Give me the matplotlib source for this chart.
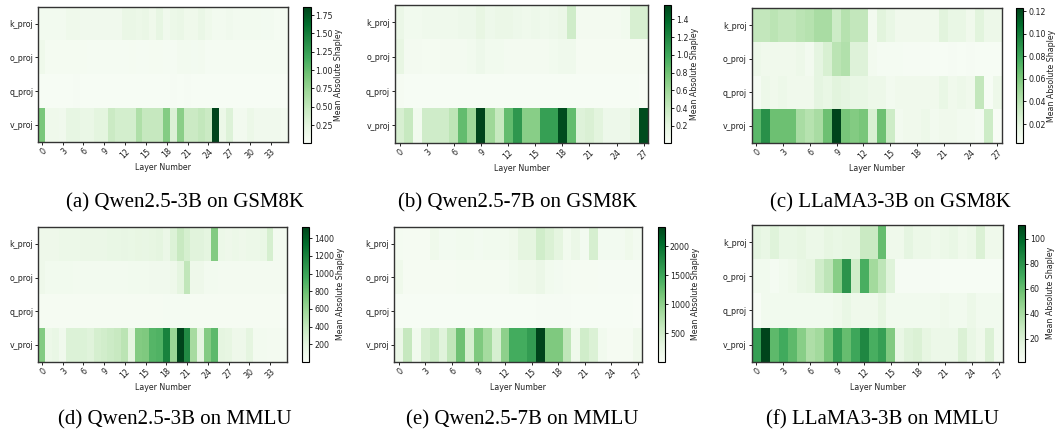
import numpy as np
import matplotlib
matplotlib.use("Agg")
import matplotlib.pyplot as plt

modules = ["k_proj", "o_proj", "q_proj", "v_proj"]
captions = ["(a) Qwen2.5-3B on GSM8K", "(b) Qwen2.5-7B on GSM8K", "(c) LLaMA3-3B on GSM8K",
            "(d) Qwen2.5-3B on MMLU", "(e) Qwen2.5-7B on MMLU", "(f) LLaMA3-3B on MMLU"]
cbar_label = "Mean Absolute Shapley"
xlabel = "Layer Number"

# (a) Qwen2.5-3B GSM8K, 36 layers
a_k = [0.08, 0.08, 0.08, 0.08, 0.12, 0.12, 0.10, 0.10, 0.10, 0.10, 0.10, 0.10, 0.18, 0.18, 0.16, 0.18,
       0.12, 0.22, 0.10, 0.15, 0.18, 0.12, 0.12, 0.18, 0.12, 0.08, 0.08, 0.10, 0.08, 0.08, 0.08, 0.08,
       0.07, 0.07, 0.05, 0.05]
a_o = [0.12, 0.06, 0.06, 0.06, 0.06, 0.06, 0.06, 0.05, 0.05, 0.05, 0.05, 0.05, 0.05, 0.06, 0.05, 0.05,
       0.06, 0.06, 0.05, 0.05, 0.08, 0.08, 0.07, 0.08, 0.05, 0.05, 0.05, 0.05, 0.05, 0.05, 0.05, 0.05,
       0.05, 0.05, 0.05, 0.05]
a_q = [0.03, 0.03, 0.03, 0.03, 0.03, 0.04, 0.03, 0.03, 0.03, 0.03, 0.03, 0.03, 0.03, 0.03, 0.03, 0.03,
       0.03, 0.03, 0.03, 0.04, 0.03, 0.04, 0.03, 0.03, 0.03, 0.03, 0.03, 0.03, 0.03, 0.03, 0.03, 0.03,
       0.03, 0.03, 0.03, 0.012]
a_v = [0.90, 0.12, 0.12, 0.10, 0.22, 0.22, 0.18, 0.18, 0.25, 0.25, 0.45, 0.38, 0.38, 0.38, 0.62, 0.48,
       0.48, 0.48, 0.85, 0.32, 0.82, 0.45, 0.45, 0.50, 0.45, 1.855, 0.15, 0.30, 0.08, 0.08, 0.15, 0.10,
       0.10, 0.10, 0.10, 0.08]

# (b) Qwen2.5-7B GSM8K, 28 layers
b_k = [0.15, 0.08, 0.08, 0.10, 0.10, 0.10, 0.10, 0.12, 0.12, 0.18, 0.12, 0.15, 0.15, 0.12, 0.10, 0.12,
       0.10, 0.12, 0.15, 0.35, 0.06, 0.06, 0.06, 0.06, 0.06, 0.08, 0.30, 0.30]
b_o = [0.18, 0.06, 0.06, 0.05, 0.05, 0.06, 0.06, 0.06, 0.08, 0.12, 0.08, 0.08, 0.06, 0.06, 0.06, 0.06,
       0.06, 0.08, 0.10, 0.10, 0.04, 0.04, 0.04, 0.04, 0.04, 0.04, 0.04, 0.04]
b_q = [0.04, 0.03, 0.03, 0.03, 0.03, 0.03, 0.03, 0.03, 0.03, 0.03, 0.03, 0.03, 0.03, 0.03, 0.03, 0.03,
       0.03, 0.03, 0.03, 0.03, 0.03, 0.03, 0.03, 0.03, 0.03, 0.03, 0.03, 0.012]
b_v = [0.30, 0.40, 0.08, 0.35, 0.35, 0.35, 0.45, 0.85, 0.60, 1.56, 0.60, 0.40, 0.85, 1.10, 0.70, 0.70,
       1.05, 1.05, 1.52, 0.85, 0.25, 0.28, 0.22, 0.12, 0.12, 0.12, 0.20, 1.52]

# (c) LLaMA3-3B GSM8K, 28 layers
c_k = [0.035, 0.035, 0.038, 0.035, 0.035, 0.038, 0.040, 0.045, 0.045, 0.030, 0.040, 0.035, 0.035, 0.008,
       0.020, 0.015, 0.010, 0.010, 0.010, 0.010, 0.010, 0.020, 0.015, 0.015, 0.010, 0.020, 0.012, 0.012]
c_o = [0.012, 0.010, 0.010, 0.010, 0.010, 0.012, 0.008, 0.018, 0.025, 0.038, 0.042, 0.022, 0.022, 0.008,
       0.006, 0.006, 0.006, 0.005, 0.005, 0.005, 0.004, 0.004, 0.005, 0.004, 0.005, 0.004, 0.004, 0.004]
c_q = [0.006, 0.012, 0.010, 0.012, 0.010, 0.010, 0.010, 0.018, 0.015, 0.020, 0.018, 0.015, 0.015, 0.012,
       0.012, 0.008, 0.010, 0.010, 0.010, 0.010, 0.010, 0.015, 0.010, 0.012, 0.010, 0.035, 0.004, 0.012]
c_v = [0.070, 0.090, 0.065, 0.065, 0.065, 0.045, 0.040, 0.045, 0.065, 0.1225, 0.062, 0.058, 0.062, 0.025,
       0.065, 0.030, 0.008, 0.010, 0.010, 0.012, 0.008, 0.010, 0.010, 0.008, 0.008, 0.006, 0.030, 0.0035]

# (d) Qwen2.5-3B MMLU, 36 layers
d_k = [100, 100, 100, 120, 120, 120, 140, 140, 140, 140, 150, 150, 160, 150, 170, 160, 180, 200,
       130, 250, 380, 300, 220, 220, 200, 700, 120, 100, 120, 100, 120, 120, 150, 300, 60, 50]
d_o = [100, 70, 70, 70, 70, 60, 60, 60, 60, 60, 60, 60, 60, 70, 70, 70, 80, 80, 80, 100, 200, 420,
       100, 100, 60, 60, 50, 50, 50, 50, 50, 50, 50, 50, 50, 50]
d_q = [30, 30, 30, 30, 30, 30, 30, 30, 30, 30, 30, 30, 30, 30, 30, 30, 30, 30, 40, 40, 40, 40, 30,
       30, 30, 30, 30, 30, 30, 30, 30, 30, 30, 30, 30, 5]
d_v = [700, 120, 150, 80, 250, 250, 250, 230, 300, 320, 350, 380, 450, 200, 700, 720, 880, 900, 1200,
       600, 1525, 1150, 550, 200, 700, 850, 200, 180, 100, 100, 200, 60, 60, 50, 50, 40]

# (e) Qwen2.5-7B MMLU, 28 layers
e_k = [60, 50, 50, 50, 150, 80, 80, 100, 100, 80, 100, 100, 100, 150, 300, 300, 500, 400, 300, 100,
       200, 80, 450, 80, 80, 80, 150, 80]
e_o = [150, 50, 50, 50, 50, 50, 50, 60, 60, 60, 60, 60, 60, 100, 150, 150, 200, 100, 80, 60, 50, 50,
       50, 40, 40, 40, 40, 40]
e_q = [30, 30, 30, 30, 30, 30, 30, 30, 30, 30, 30, 30, 30, 30, 30, 30, 40, 40, 40, 40, 30, 30, 30,
       30, 30, 30, 30, 5]
e_v = [200, 600, 100, 450, 550, 350, 650, 1200, 450, 1100, 850, 450, 1000, 1450, 1450, 1600, 2340,
       1100, 1100, 650, 150, 500, 400, 100, 50, 50, 50, 150]

# (f) LLaMA3-3B MMLU, 28 layers
f_k = [15, 12, 18, 12, 12, 14, 10, 10, 14, 12, 14, 14, 28, 28, 60, 8, 8, 15, 10, 10, 8, 10, 12, 8,
       10, 20, 8, 8]
f_o = [6, 6, 4, 6, 8, 12, 14, 25, 32, 50, 80, 25, 68, 42, 32, 18, 3, 3, 3, 3, 3, 2, 2, 2, 2, 2, 2, 2]
f_q = [1.5, 6, 6, 6, 6, 6, 6, 6, 6, 8, 12, 8, 8, 8, 14, 6, 6, 6, 6, 6, 6, 8, 6, 6, 10, 6, 6, 6]
f_v = [75, 111, 62, 70, 62, 50, 38, 42, 55, 75, 60, 72, 85, 68, 75, 52, 12, 18, 20, 14, 10, 10, 10,
       20, 12, 8, 20, 6]

panels = [
    [a_k, a_o, a_q, a_v],
    [b_k, b_o, b_q, b_v],
    [c_k, c_o, c_q, c_v],
    [d_k, d_o, d_q, d_v],
    [e_k, e_o, e_q, e_v],
    [f_k, f_o, f_q, f_v],
]

W, H = 1055, 437
# pixel boxes: heatmap (x0, x1, ytop, ybot), colorbar (x0, x1, ytop, ybot)
heat_px = [(38.3, 288.3, 6.7, 141.7), (395, 648.3, 5, 142.7), (751.7, 1001.7, 8.3, 142.7),
           (38.3, 287.3, 227, 361.7), (394.3, 642.3, 226.7, 361.7), (751.7, 1003.3, 225, 361.7)]
cbar_px = [(303.3, 310.7, 7.3, 142.7), (664.3, 671, 5, 142.7), (1016, 1023.3, 8.3, 142.7),
           (301.7, 309.3, 227, 361.7), (657.7, 665, 226.7, 361.7), (1018.3, 1025, 225, 361.7)]
cap_pos = [(185, 203), (517, 203), (890, 203), (175, 420), (522, 420), (883, 420)]


def rect(b):
    x0, x1, yt, yb = b
    return [x0 / W, 1 - yb / H, (x1 - x0) / W, (yb - yt) / H]


fs = 5.7
fig = plt.figure(figsize=(W / 100, H / 100), dpi=100)
for i, rows in enumerate(panels):
    data = np.array(rows, dtype=float)
    n = data.shape[1]
    ax = fig.add_axes(rect(heat_px[i]))
    cax = fig.add_axes(rect(cbar_px[i]))
    mesh = ax.pcolormesh(np.arange(n + 1), np.arange(5), data, cmap="Greens",
                         vmin=data.min(), vmax=data.max())
    ax.set_xlim(0, n)
    ax.set_ylim(4, 0)
    xt = np.arange(0, n, 3)
    ax.set_xticks(xt + 0.5)
    ax.set_xticklabels([str(t) for t in xt], rotation=45, ha="right", rotation_mode="anchor",
                       fontsize=fs, color="#222222")
    ax.set_yticks(np.arange(4) + 0.5)
    ax.set_yticklabels(modules, fontsize=fs, color="#222222")
    ax.tick_params(length=2, width=0.6, pad=1.5)
    ax.set_xlabel(xlabel, fontsize=fs, color="#222222", labelpad=2)
    for s in ax.spines.values():
        s.set_linewidth(1.0)
        s.set_color("#333333")
    cb = fig.colorbar(mesh, cax=cax)
    cb.ax.tick_params(labelsize=fs, length=2, width=0.6, pad=1.5, labelcolor="#222222")
    cb.outline.set_linewidth(0.8)
    cb.set_label(cbar_label, fontsize=fs, color="#222222", labelpad=1)
    cx, cy = cap_pos[i]
    fig.text(cx / W, 1 - cy / H, captions[i], ha="center", va="center",
             fontsize=15, family="Liberation Serif")

fig.savefig("out.png", dpi=100)
